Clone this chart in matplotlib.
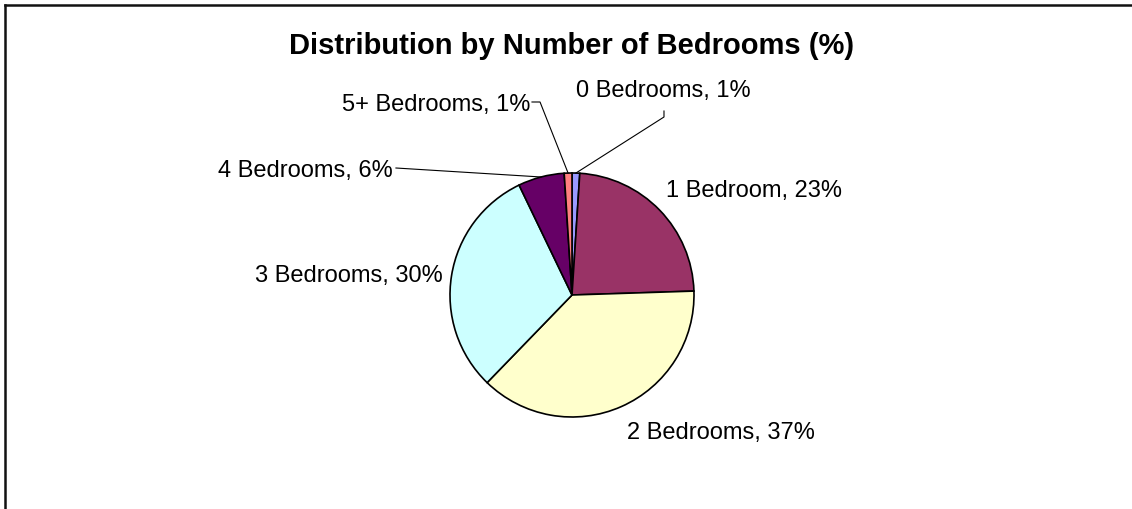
import matplotlib.pyplot as plt
from matplotlib.lines import Line2D
import numpy as np

plt.rcParams['font.family'] = ['Liberation Sans', 'DejaVu Sans']

# data
categories = ['0 Bedrooms', '1 Bedroom', '2 Bedrooms', '3 Bedrooms', '4 Bedrooms', '5+ Bedrooms']
shares = [1, 23, 37, 30, 6, 1]
colors = ['#9999FF', '#993366', '#FFFFCC', '#CCFFFF', '#660066', '#FF8080']
title = 'Distribution by Number of Bedrooms (%)'

# label layout, in pie radius units: x, baseline y, alignment
label_pos = [(0.750, 1.631, 'center'),
             (0.770, 0.811, 'left'),
             (0.451, -1.172, 'left'),
             (-1.057, 0.115, 'right'),
             (-1.467, 0.975, 'right'),
             (-0.344, 1.516, 'right')]
# leader line starting points (None = no leader)
leaders = [[(0.754, 1.508), (0.754, 1.459)],
           None,
           None,
           None,
           [(-1.443, 1.041)],
           [(-0.328, 1.582), (-0.262, 1.582)]]

W, H = 1132, 510
cx, cy, R = 572, 296, 122  # pie centre and radius in pixels

fig = plt.figure(figsize=(W / 100, H / 100), dpi=100)
ax = fig.add_axes([0, 0, 1, 1])

wedges, _ = ax.pie(shares, colors=colors, startangle=90, counterclock=False,
                   radius=1, wedgeprops=dict(edgecolor='black', linewidth=1.2))

for w, cat, val, (x, y, ha), lead in zip(wedges, categories, shares, label_pos, leaders):
    ax.text(x, y, f'{cat}, {val}%', ha=ha, va='baseline', fontsize=17, color='black')
    if lead is not None:
        mid = np.deg2rad((w.theta1 + w.theta2) / 2)
        pts = lead + [(np.cos(mid), np.sin(mid))]
        ax.plot([p[0] for p in pts], [p[1] for p in pts], color='black', lw=0.8)

ax.set_xlim(-cx / R, (W - cx) / R)
ax.set_ylim(-(H - cy) / R, cy / R)
ax.set_aspect('auto')
ax.axis('off')

fig.text(572 / W, 1 - 54 / H, title, ha='center', va='baseline',
         fontsize=21, fontweight='bold')

# chart border (only top and left edges visible)
fig.add_artist(Line2D([5 / W, 1], [1 - 6 / H, 1 - 6 / H], color='#111111', lw=1.8))
fig.add_artist(Line2D([5 / W, 5 / W], [0, 1 - 6 / H], color='#111111', lw=1.8))

fig.savefig('out.png', dpi=100)
